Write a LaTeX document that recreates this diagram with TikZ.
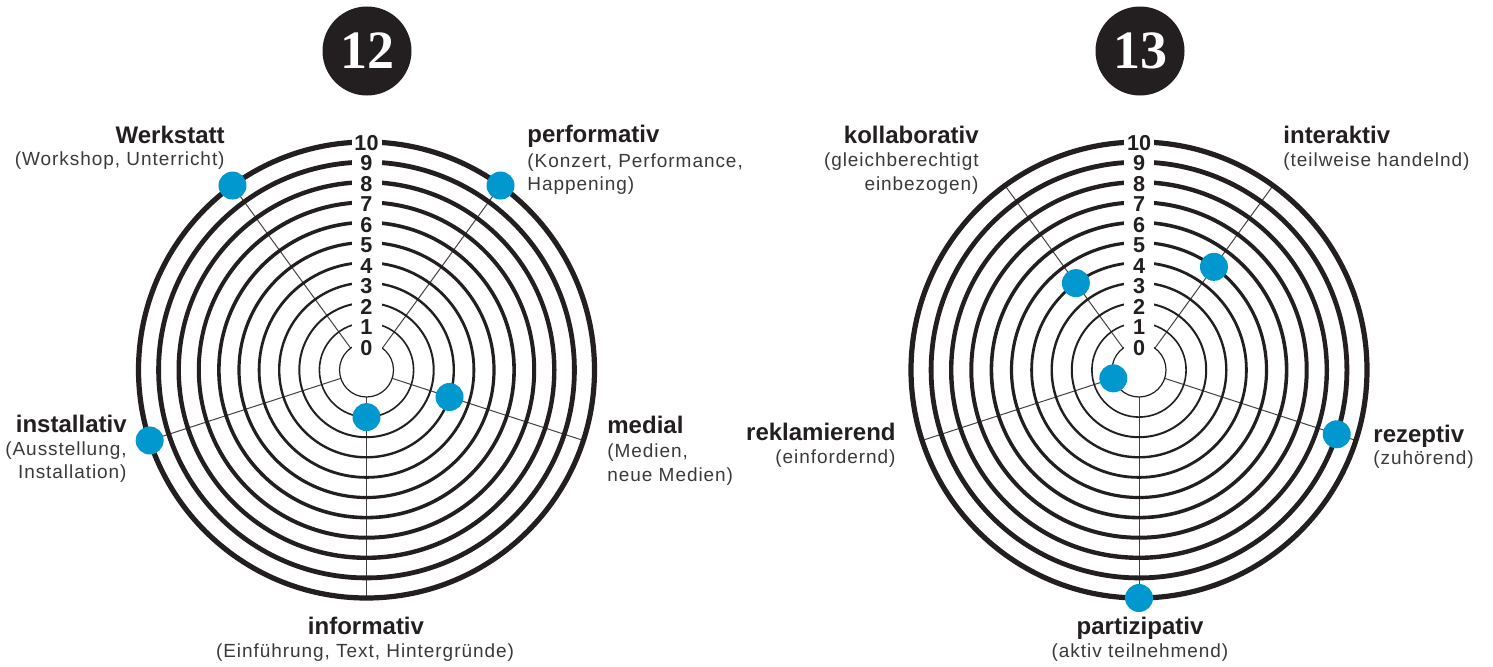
\documentclass[tikz,border=0pt]{standalone}
\usepackage{fontspec}
\usetikzlibrary{calc}
\setmainfont{Liberation Sans}
\newfontfamily\subfont{Liberation Sans}[LetterSpace=5]
\newfontfamily\badgefont{Liberation Serif}
\definecolor{dotblue}{HTML}{0098CE}
\definecolor{ink}{HTML}{231F20}
\definecolor{subgray}{HTML}{3A3A3A}
\tikzset{
  ringline/.style={draw=ink},
  spoke/.style={draw=ink!85, line width=0.5pt},
  ringnum/.style={fill=white, inner sep=0pt, minimum width=15pt, minimum height=8.5pt,
    font=\bfseries\fontsize{10.8}{10.8}\selectfont, text=ink},
  valdot/.style={circle, fill=dotblue, minimum size=14pt, inner sep=0pt},
  badge/.style={circle, fill=ink, minimum size=44.5pt, inner sep=0pt, text=white,
    font=\badgefont\bfseries\fontsize{27}{27}\selectfont},
  ttl/.style={font=\bfseries\fontsize{12}{12}\selectfont, text=ink, inner sep=0pt},
  subt/.style={font=\subfont\fontsize{9.5}{9.5}\selectfont, text=subgray, inner sep=0pt},
}
\newcommand{\drawchart}[3]{%
  \coordinate (#1c) at (#2,296);
  \foreach \a [count=\i] in {126,54,-18,270,198} {
    \coordinate (#1s\i) at ($(#1c)+(\a:27)$);
    \coordinate (#1e\i) at ($(#1c)+(\a:228)$);
    \draw[spoke] (#1s\i) -- (#1e\i);
  }
  \foreach \k in {0,...,10} {
    \pgfmathsetmacro\lw{0.6+0.2*\k}
    \pgfmathsetmacro\rr{27+20.1*\k}
    \draw[ringline, line width=\lw pt] (#1c) circle[radius=\rr];
  }
  \foreach \k in {0,...,10} {
    \node[ringnum] (#1n\k) at (#2,{666-143-(10-\k)*20.5}) {\k};
  }
  \foreach \a/\lv [count=\i] in {#3} {
    \node[valdot] (#1d\i) at ($(#1c)+(\a:{27+20.1*\lv})$) {};
  }
}
\begin{document}
\begin{tikzpicture}[x=0.5pt,y=0.5pt]
\useasboundingbox (0,0) rectangle (1493,666);
\fill[white] (0,0) rectangle (1493,666);

\drawchart{L}{366.5}{126/10,54/10,-18/3,270/1,198/10}
\drawchart{R}{1139}{126/4,54/5,-18/9,270/10,198/0}

\node[badge] (b12) at (367,615) {12};
\node[badge] (b13) at (1140,615) {13};

% left chart labels
\node[ttl, anchor=base east] (lw1) at (225,523) {Werkstatt};
\node[subt, anchor=base east] (lw2) at (225,501) {(Workshop, Unterricht)};
\node[ttl, anchor=base west] (lp1) at (527,524) {performativ};
\node[subt, anchor=base west] (lp2) at (527,499) {(Konzert, Performance,};
\node[subt, anchor=base west] (lp3) at (527,476) {Happening)};
\node[ttl, anchor=base east] (li1) at (127,234) {installativ};
\node[subt, anchor=base east] (li2) at (127,211) {(Ausstellung,};
\node[subt, anchor=base east] (li3) at (127,188) {Installation)};
\node[ttl, anchor=base west] (lm1) at (607,233) {medial};
\node[subt, anchor=base west] (lm2) at (607,209) {(Medien,};
\node[subt, anchor=base west] (lm3) at (607,185) {neue Medien)};
\node[ttl, anchor=base] (lf1) at (366,32) {informativ};
\node[subt, anchor=base] (lf2) at (365,9) {(Einführung, Text, Hintergründe)};

% right chart labels
\node[ttl, anchor=base east] (rk1) at (979,523) {kollaborativ};
\node[subt, anchor=base east] (rk2) at (979,500) {(gleichberechtigt};
\node[subt, anchor=base east] (rk3) at (979,476) {einbezogen)};
\node[ttl, anchor=base west] (ri1) at (1283,523) {interaktiv};
\node[subt, anchor=base west] (ri2) at (1283,500) {(teilweise handelnd)};
\node[ttl, anchor=base west] (rr1) at (1373,224) {rezeptiv};
\node[subt, anchor=base west] (rr2) at (1373,202) {(zuhörend)};
\node[ttl, anchor=base east] (rl1) at (896,226) {reklamierend};
\node[subt, anchor=base east] (rl2) at (896,203) {(einfordernd)};
\node[ttl, anchor=base] (rp1) at (1140,32) {partizipativ};
\node[subt, anchor=base] (rp2) at (1140,9) {(aktiv teilnehmend)};
\end{tikzpicture}
\end{document}
